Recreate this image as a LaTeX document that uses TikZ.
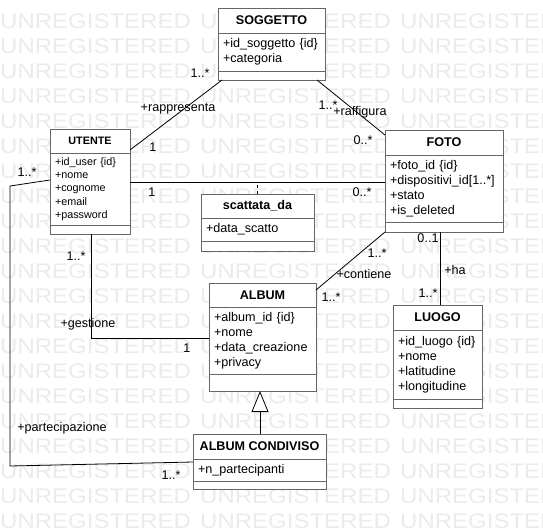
\documentclass[tikz,border=0pt]{standalone}
\usepackage{fontspec}
\setmainfont{Liberation Sans}
\usetikzlibrary{arrows.meta,positioning}
\hyphenpenalty=10000
\definecolor{boxgray}{HTML}{666666}
\definecolor{wmgray}{HTML}{EBEBEB}
\tikzset{
  head/.style={draw=boxgray, fill=white, line width=1pt, inner sep=0pt, outer sep=0pt, anchor=north west, minimum height=25pt, font=\fontsize{12.6pt}{15pt}\selectfont\bfseries},
  attrs/.style={draw=boxgray, fill=white, line width=1pt, inner xsep=5pt, inner ysep=0pt, outer sep=0pt, anchor=north west, align=left, font=\fontsize{12.6pt}{15pt}\selectfont},
  foot/.style={draw=boxgray, fill=white, line width=1pt, inner sep=0pt, outer sep=0pt, anchor=north west},
  assoc/.style={draw=black, line width=0.8pt},
  mult/.style={inner sep=0pt, text height=9pt, text depth=0pt, font=\fontsize{12.6pt}{15pt}\selectfont},
  watermark/.style={anchor=west, inner sep=0pt, text=wmgray, text height=17pt, text depth=0pt, font=\fontsize{24pt}{24pt}\selectfont, yscale=0.88, transform shape}
}
\begin{document}
\begin{tikzpicture}[x=1pt,y=-1pt]
            \useasboundingbox (0,0) rectangle (543,531);
            \begin{scope}
                \clip (0,0) rectangle (543,531);
                \foreach \r in {0,...,20}
                    \foreach \c in {0,1,2}
                        \node[watermark] (wm-\r-\c) at (200*\c, 21+25*\r) {UNREGISTERED};
            \end{scope}

            \node[head, minimum width=107pt] (soggetto-h) at (218,8) {SOGGETTO};
            \node[attrs, text width=97pt, minimum height=38pt] (soggetto-a) at (soggetto-h.south west) {+id\_soggetto \{id\}\\+categoria};
            \node[foot, minimum width=107pt, minimum height=9pt] (soggetto-f) at (soggetto-a.south west) {};

            \node[head, minimum width=80pt, minimum height=24pt, font=\fontsize{10.8pt}{13.25pt}\selectfont\bfseries] (utente-h) at (50,129) {UTENTE};
            \node[attrs, text width=70pt, minimum height=72pt, font=\fontsize{10.8pt}{13.25pt}\selectfont] (utente-a) at (utente-h.south west) {+id\_user \{id\}\\+nome\\+cognome\\+email\\+password};
            \node[foot, minimum width=80pt, minimum height=9pt] (utente-f) at (utente-a.south west) {};

            \node[head, minimum width=118pt] (foto-h) at (385,130) {FOTO};
            \node[attrs, text width=108pt, minimum height=67pt] (foto-a) at (foto-h.south west) {+foto\_id \{id\}\\+dispositivi\_id[1..*]\\+stato\\+is\_deleted};
            \node[foot, minimum width=118pt, minimum height=10pt] (foto-f) at (foto-a.south west) {};

            \node[head, minimum width=113pt, minimum height=24pt] (scattata-h) at (201,194) {scattata\_da};
            \node[attrs, text width=103pt, minimum height=23pt] (scattata-a) at (scattata-h.south west) {+data\_scatto};
            \node[foot, minimum width=113pt, minimum height=10pt] (scattata-f) at (scattata-a.south west) {};

            \node[head, minimum width=107pt, minimum height=24pt] (album-h) at (209,283) {ALBUM};
            \node[attrs, text width=97pt, minimum height=67pt] (album-a) at (album-h.south west) {+album\_id \{id\}\\+nome\\+data\_creazione\\+privacy};
            \node[foot, minimum width=107pt, minimum height=17pt] (album-f) at (album-a.south west) {};

            \node[head, minimum width=89pt] (luogo-h) at (393,305) {LUOGO};
            \node[attrs, text width=79pt, minimum height=69pt] (luogo-a) at (luogo-h.south west) {+id\_luogo \{id\}\\+nome\\+latitudine\\+longitudine};
            \node[foot, minimum width=89pt, minimum height=9pt] (luogo-f) at (luogo-a.south west) {};

            \node[head, minimum width=133pt] (condiviso-h) at (193,434) {ALBUM CONDIVISO};
            \node[attrs, text width=123pt, minimum height=22pt] (condiviso-a) at (condiviso-h.south west) {+n\_partecipanti};
            \node[foot, minimum width=133pt, minimum height=8pt] (condiviso-f) at (condiviso-a.south west) {};

            \draw[assoc] ([yshift=-21pt]utente-h.north east) -- ([xshift=4pt]soggetto-f.south west);
            \draw[assoc] ([xshift=-8pt]soggetto-f.south east) -- ([yshift=-5pt]foto-h.north west);
            \draw[assoc] ([yshift=-29pt]utente-a.north east) coordinate (uf-l) -- (uf-l -| foto-a.west) coordinate (uf-r);
            \draw[assoc, dash pattern=on 3pt off 3pt] (scattata-h.north) -- (scattata-h.north |- uf-l);
            \draw[assoc] ([yshift=-7pt]album-h.north east) -- (foto-f.south west);
            \draw[assoc] ([xshift=2.5pt]luogo-h.north) -- ([xshift=2.5pt]luogo-h.north |- foto-f.south);
            \draw[assoc] ([xshift=1pt]utente-f.south) |- ([yshift=-31pt]album-a.north west);
            \draw[assoc] ([yshift=-27pt]utente-a.north west) -- ++(-40,6) -- ++(0,280) -- ([yshift=-3pt]condiviso-a.north west);
            \draw[assoc, -{Triangle[length=21pt, width=17pt, fill=white]}] ([xshift=0.5pt]condiviso-h.north) -- ([xshift=0.5pt]condiviso-h.north |- album-f.south);

            \node[mult] (m-rap-s) at (200,73) {1..*};
            \node[mult] (l-rap) at (178,107) {+rappresenta};
            \node[mult] (m-rap-u) at (153,147) {1};
            \node[mult] (m-raf-s) at (328,105) {1..*};
            \node[mult] (l-raf) at (360,111) {+raffigura};
            \node[mult] (m-raf-f) at (363,140) {0..*};
            \node[mult] (m-sca-u) at (152,192) {1};
            \node[mult] (m-sca-f) at (362,192) {0..*};
            \node[mult] (m-con-f) at (377,253) {1..*};
            \node[mult] (l-con) at (364,274) {+contiene};
            \node[mult] (m-con-a) at (331,297) {1..*};
            \node[mult] (m-ha-f) at (428,238) {0..1};
            \node[mult] (l-ha) at (455,270) {+ha};
            \node[mult] (m-ha-l) at (428,293) {1..*};
            \node[mult] (m-ges-u) at (76,256) {1..*};
            \node[mult] (l-ges) at (88,323) {+gestione};
            \node[mult] (m-ges-a) at (187,348) {1};
            \node[mult] (m-par-u) at (27,172) {1..*};
            \node[mult] (l-par) at (62,427) {+partecipazione};
            \node[mult] (m-par-c) at (171,475) {1..*};
        \end{tikzpicture}
\end{document}
